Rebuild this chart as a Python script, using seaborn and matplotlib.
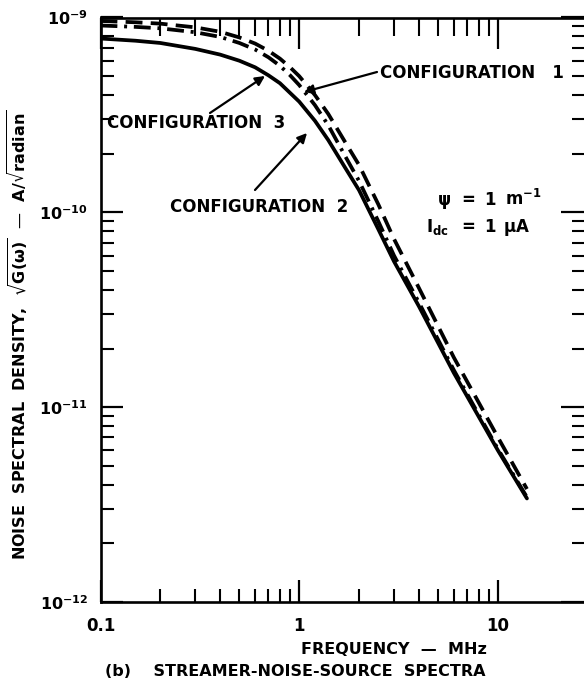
import numpy as np
import pandas as pd
import matplotlib
matplotlib.use("Agg")
import matplotlib.pyplot as plt
import seaborn as sns
from matplotlib.ticker import FixedLocator, NullFormatter, FixedFormatter

# ---- data ----
freq_mhz = [0.1, 0.15, 0.2, 0.3, 0.4, 0.5, 0.6, 0.7, 0.8, 0.9, 1.0, 1.2, 1.4, 1.7,
            2.0, 2.5, 3.0, 4.0, 6.0, 10.0, 14.0]
config1 = [9.6e-10, 9.45e-10, 9.3e-10, 8.9e-10, 8.45e-10, 7.9e-10, 7.35e-10, 6.75e-10,
           6.15e-10, 5.55e-10, 5.0e-10, 4.0e-10, 3.2e-10, 2.3e-10, 1.75e-10, 1.1e-10,
           7.3e-11, 4.1e-11, 1.8e-11, 7.0e-12, 3.8e-12]
config2 = [7.8e-10, 7.6e-10, 7.4e-10, 6.9e-10, 6.45e-10, 6.0e-10, 5.55e-10, 5.05e-10,
           4.6e-10, 4.1e-10, 3.7e-10, 2.95e-10, 2.35e-10, 1.7e-10, 1.3e-10, 8.2e-11,
           5.6e-11, 3.3e-11, 1.5e-11, 6.0e-12, 3.4e-12]
config3 = [9.1e-10, 8.95e-10, 8.8e-10, 8.4e-10, 7.95e-10, 7.4e-10, 6.85e-10, 6.25e-10,
           5.65e-10, 5.05e-10, 4.5e-10, 3.55e-10, 2.8e-10, 1.95e-10, 1.45e-10, 9.0e-11,
           6.0e-11, 3.45e-11, 1.55e-11, 6.1e-12, 3.45e-12]
config_names = ["CONFIGURATION 1", "CONFIGURATION 2", "CONFIGURATION 3"]

x_major = [0.1, 1, 10]
x_minor = [0.2, 0.3, 0.4, 0.5, 0.6, 0.7, 0.8, 0.9, 2, 3, 4, 5, 6, 7, 8, 9]
x_labels = ["0.1", "1", "10"]
y_major = [1e-12, 1e-11, 1e-10, 1e-9]
y_labels = [r"$10^{-12}$", r"$10^{-11}$", r"$10^{-10}$", r"$10^{-9}$"]
y_minor = [m * 10.0 ** e for e in (-12, -11, -10) for m in range(2, 10)]

df = pd.DataFrame({
    "freq": freq_mhz * 3,
    "value": config1 + config2 + config3,
    "config": [config_names[0]] * len(freq_mhz) + [config_names[1]] * len(freq_mhz)
              + [config_names[2]] * len(freq_mhz),
})

# ---- style ----
sns.set_style("ticks")
plt.rcParams["font.family"] = ["DejaVu Sans"]
plt.rcParams["font.weight"] = "bold"
plt.rcParams["mathtext.fontset"] = "dejavusans"
plt.rcParams["mathtext.default"] = "bf"
for key in ["text.color", "axes.labelcolor", "xtick.color", "ytick.color", "axes.edgecolor"]:
    plt.rcParams[key] = "black"

W, H = 584, 683
fig = plt.figure(figsize=(W / 100, H / 100), dpi=100)
fig.patch.set_facecolor("white")

def fx(x):
    return x / W

def fy(y):
    return 1 - y / H

left_px, right_px, top_px, bot_px = 100.5, 587.0, 17.5, 602.0
ax = fig.add_axes([fx(left_px), fy(bot_px), (right_px - left_px) / W, (bot_px - top_px) / H])
ax.set_facecolor("white")
ax.set_xscale("log")
ax.set_yscale("log")

xmax = 10 ** ((right_px - left_px) / 198.7 - 1)
xlim = (0.1, xmax)
ylim = (1e-12, 1e-9)

sns.lineplot(data=df, x="freq", y="value", hue="config", style="config",
             palette={n: "black" for n in config_names},
             dashes={config_names[0]: (4.5, 2.2), config_names[1]: "",
                     config_names[2]: (4.5, 1.8, 0.8, 1.8)},
             linewidth=2.7, legend=False, ax=ax, zorder=3)
ax.set_xlim(*xlim)
ax.set_ylim(*ylim)
ax.set_xlabel("")
ax.set_ylabel("")

spine_lw = 1.9
for s in ax.spines.values():
    s.set_linewidth(spine_lw)
    s.set_color("black")
    s.set_visible(True)

ax.xaxis.set_major_locator(FixedLocator(x_major))
ax.xaxis.set_major_formatter(FixedFormatter(x_labels))
ax.xaxis.set_minor_locator(FixedLocator(x_minor))
ax.xaxis.set_minor_formatter(NullFormatter())
ax.yaxis.set_major_locator(FixedLocator(y_major))
ax.yaxis.set_major_formatter(FixedFormatter(y_labels))
ax.yaxis.set_minor_locator(FixedLocator(y_minor))
ax.yaxis.set_minor_formatter(NullFormatter())

ax.tick_params(axis="both", which="major", direction="in", length=16, width=1.6,
               labelsize=12, top=False, right=False, color="black", labelcolor="black")
ax.tick_params(axis="both", which="minor", direction="in", length=9.5, width=1.5,
               top=False, right=False, color="black")
ax.tick_params(axis="x", which="major", pad=11)
ax.tick_params(axis="y", which="major", pad=9, labelsize=11.5)
for lab in ax.get_xticklabels() + ax.get_yticklabels():
    lab.set_fontweight("bold")

# top ticks (longer)
axt = ax.twiny()
axt.set_xscale("log")
axt.set_xlim(*xlim)
axt.xaxis.set_major_locator(FixedLocator(x_major))
axt.xaxis.set_minor_locator(FixedLocator(x_minor))
axt.xaxis.set_major_formatter(NullFormatter())
axt.xaxis.set_minor_formatter(NullFormatter())
axt.tick_params(axis="x", which="major", direction="in", length=22, width=1.6, top=True,
                color="black")
axt.tick_params(axis="x", which="minor", direction="in", length=13, width=1.5, top=True,
                color="black")
for s in axt.spines.values():
    s.set_visible(False)

# right ticks
axr = ax.twinx()
axr.set_yscale("log")
axr.set_ylim(*ylim)
axr.yaxis.set_major_locator(FixedLocator(y_major))
axr.yaxis.set_minor_locator(FixedLocator(y_minor))
axr.yaxis.set_major_formatter(NullFormatter())
axr.yaxis.set_minor_formatter(NullFormatter())
axr.tick_params(axis="y", which="major", direction="in", length=19, width=1.6, right=True,
                color="black")
axr.tick_params(axis="y", which="minor", direction="in", length=11, width=1.5, right=True,
                color="black")
for s in axr.spines.values():
    s.set_visible(False)

# ---- annotations ----
fs = 12
fig.text(fx(380), fy(73), "CONFIGURATION   1", fontsize=fs, fontweight="bold",
         ha="left", va="center")
fig.text(fx(107), fy(123), "CONFIGURATION  3", fontsize=fs, fontweight="bold",
         ha="left", va="center")
fig.text(fx(170), fy(207), "CONFIGURATION  2", fontsize=fs, fontweight="bold",
         ha="left", va="center")

arrow_kw = dict(arrowstyle="-|>", color="black", lw=1.6, mutation_scale=14,
                shrinkA=0, shrinkB=0)
fig.add_artist(matplotlib.patches.FancyArrowPatch((fx(377), fy(72)), (fx(304), fy(92)),
               transform=fig.transFigure, **arrow_kw))
fig.add_artist(matplotlib.patches.FancyArrowPatch((fx(210), fy(113)), (fx(265), fy(76)),
               transform=fig.transFigure, **arrow_kw))
fig.add_artist(matplotlib.patches.FancyArrowPatch((fx(255), fy(190)), (fx(307), fy(133)),
               transform=fig.transFigure, **arrow_kw))

# parameters
fig.text(fx(444), fy(205), r"$\psi$", fontsize=fs, ha="center", va="baseline")
fig.text(fx(468), fy(205), "=", fontsize=fs, fontweight="bold", ha="center", va="baseline")
fig.text(fx(490), fy(205), "1", fontsize=fs, fontweight="bold", ha="center", va="baseline")
fig.text(fx(505), fy(205), r"m$^{-1}$", fontsize=fs, fontweight="bold", ha="left", va="baseline")
fig.text(fx(426), fy(232), r"I$_{\mathbf{dc}}$", fontsize=fs, fontweight="bold",
         ha="left", va="baseline")
fig.text(fx(468), fy(232), "=", fontsize=fs, fontweight="bold", ha="center", va="baseline")
fig.text(fx(490), fy(232), "1", fontsize=fs, fontweight="bold", ha="center", va="baseline")
fig.text(fx(503), fy(232), r"$\mu$A", fontsize=fs, fontweight="bold", ha="left", va="baseline")

# axis labels and caption
fig.text(fx(18), fy(335),
         r"NOISE  SPECTRAL  DENSITY,  $\sqrt{G(\omega)}$  —  A/$\sqrt{radian}$",
         rotation=90, fontsize=11.5, fontweight="bold", ha="center", va="center")
fig.text(fx(394), fy(650), "FREQUENCY  —  MHz", fontsize=11.5, fontweight="bold",
         ha="center", va="center")
fig.text(fx(105), fy(672), "(b)    STREAMER-NOISE-SOURCE  SPECTRA", fontsize=11.5,
         fontweight="bold", ha="left", va="center")

fig.savefig("out.png", dpi=100, facecolor="white")
